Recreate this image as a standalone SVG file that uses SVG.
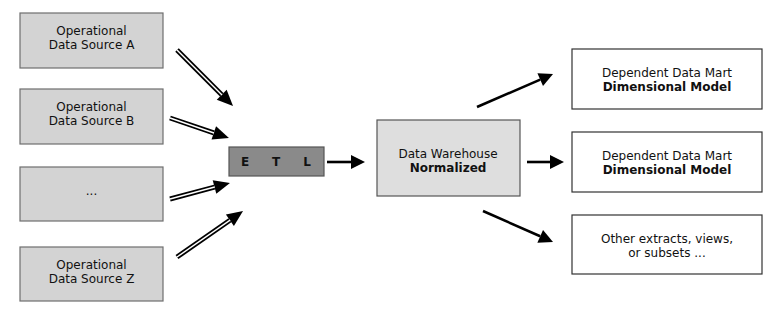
<svg xmlns="http://www.w3.org/2000/svg" width="774" height="313" viewBox="0 0 774 313">
  <style>
    text { font-family: "DejaVu Sans", Verdana, sans-serif; font-size: 12px; fill: #111; text-anchor: middle; }
    .b { font-weight: bold; }
    .src { fill: #d3d3d3; stroke: #6e6e6e; stroke-width: 1.2; }
    .etl { fill: #8a8a8a; stroke: #555; stroke-width: 1.2; }
    .dw { fill: #dedede; stroke: #555; stroke-width: 1.2; }
    .mart { fill: #fff; stroke: #333; stroke-width: 1.2; }
    .dbl { stroke: #000; stroke-width: 5; fill: none; }
    .dblin { stroke: #fff; stroke-width: 1.4; fill: none; }
    .sgl { stroke: #000; stroke-width: 2.6; fill: none; }
  </style>
  <defs>
    <marker id="headBig" markerUnits="userSpaceOnUse" markerWidth="17" markerHeight="14" refX="0" refY="7" orient="auto" overflow="visible">
      <path d="M0,0 L16,7 L0,14 z" fill="#000"/>
    </marker>
    <marker id="head" markerUnits="userSpaceOnUse" markerWidth="15" markerHeight="14" refX="0" refY="7" orient="auto" overflow="visible">
      <path d="M0,0 L14,7 L0,14 z" fill="#000"/>
    </marker>
  </defs>

  <!-- operational sources -->
  <g id="srcA">
    <rect class="src" x="20" y="13" width="143" height="55"/>
    <text x="91.5" y="35">Operational</text>
    <text x="91.5" y="49">Data Source A</text>
  </g>
  <g id="srcB">
    <rect class="src" x="20" y="89" width="143" height="55"/>
    <text x="91.5" y="111">Operational</text>
    <text x="91.5" y="125">Data Source B</text>
  </g>
  <g id="srcMore">
    <rect class="src" x="20" y="167" width="143" height="54"/>
    <text x="91.5" y="195">...</text>
  </g>
  <g id="srcZ">
    <rect class="src" x="20" y="247" width="143" height="54"/>
    <text x="91.5" y="269">Operational</text>
    <text x="91.5" y="283">Data Source Z</text>
  </g>

  <!-- ETL stage -->
  <g id="etl">
    <rect class="etl" x="229" y="147" width="95" height="29"/>
    <text class="b" x="245" y="166" font-size="11">E</text>
    <text class="b" x="276" y="166" font-size="11">T</text>
    <text class="b" x="307" y="166" font-size="11">L</text>
  </g>

  <!-- warehouse -->
  <g id="warehouse">
    <rect class="dw" x="377" y="120" width="143" height="76"/>
    <text x="448" y="158">Data Warehouse</text>
    <text class="b" x="448" y="172">Normalized</text>
  </g>

  <!-- downstream targets -->
  <g id="mart1">
    <rect class="mart" x="572" y="49" width="190" height="60"/>
    <text x="667" y="77">Dependent Data Mart</text>
    <text class="b" x="667" y="91">Dimensional Model</text>
  </g>
  <g id="mart2">
    <rect class="mart" x="572" y="132" width="190" height="60"/>
    <text x="667" y="160">Dependent Data Mart</text>
    <text class="b" x="667" y="174">Dimensional Model</text>
  </g>
  <g id="extracts">
    <rect class="mart" x="572" y="215" width="190" height="59"/>
    <text x="667" y="243">Other extracts, views,</text>
    <text x="667" y="257">or subsets ...</text>
  </g>

  <!-- connectors -->
  <g id="connectors">
    <line class="dbl" x1="177" y1="50" x2="221.7" y2="94.7" marker-end="url(#headBig)"/>
    <line class="dblin" x1="177" y1="50" x2="222" y2="95"/>
    <line class="dbl" x1="170" y1="118" x2="213.8" y2="132.9" marker-end="url(#headBig)"/>
    <line class="dblin" x1="170" y1="118" x2="214" y2="133"/>
    <line class="dbl" x1="170" y1="199" x2="214.5" y2="187.1" marker-end="url(#headBig)"/>
    <line class="dblin" x1="170" y1="199" x2="214.7" y2="187"/>
    <line class="dbl" x1="177" y1="257" x2="229.9" y2="220.2" marker-end="url(#headBig)"/>
    <line class="dblin" x1="177" y1="257" x2="230.1" y2="220.1"/>

    <line class="sgl" x1="327" y1="162" x2="351" y2="162" marker-end="url(#head)"/>
    <line class="sgl" x1="477" y1="107" x2="540.2" y2="79.6" marker-end="url(#head)"/>
    <line class="sgl" x1="527" y1="162" x2="550" y2="162" marker-end="url(#head)"/>
    <line class="sgl" x1="483" y1="211" x2="540.2" y2="236.3" marker-end="url(#head)"/>
  </g>
</svg>
